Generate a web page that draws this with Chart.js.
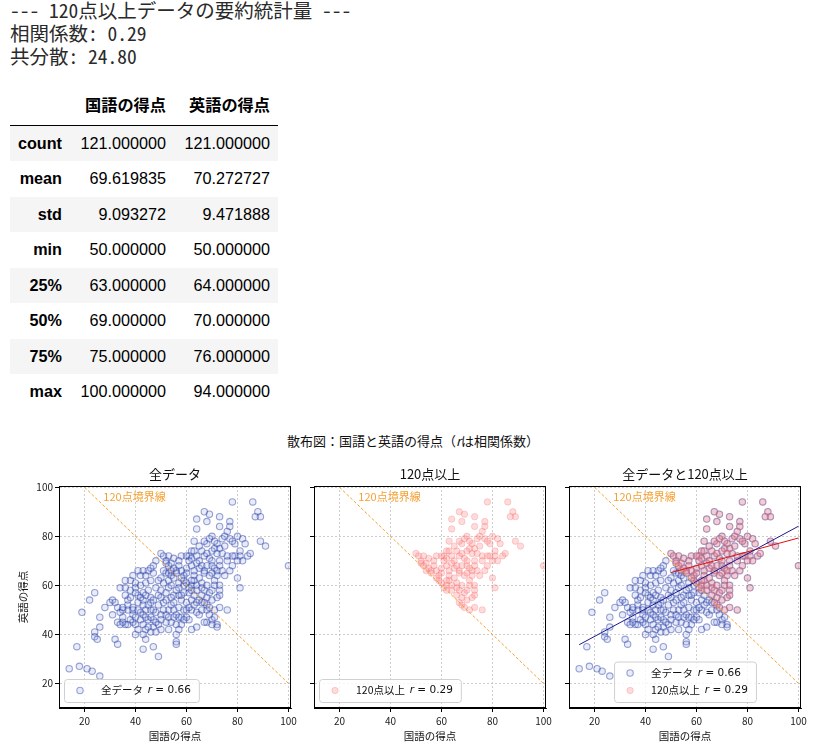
<!DOCTYPE html>
<html>
<head>
<meta charset="utf-8">
<script src="https://cdn.jsdelivr.net/npm/chart.js@4/dist/chart.umd.min.js"></script>
<style>
html, body { margin: 0; padding: 0; background: #fff; width: 826px; height: 746px; overflow: hidden; position: relative; }
#out { position: absolute; left: 10px; top: -2px; margin: 0; font: 19.5px/23px "Noto Sans Mono CJK JP", "DejaVu Sans Mono", monospace; color: #2a2a2a; white-space: pre; }
table { position: absolute; left: 10px; top: 82px; border-collapse: collapse; font: 16.2px "Liberation Sans", Arial, sans-serif; color: #000; }
th, td { padding: 0 8px 0 0; text-align: right; }
thead th { height: 43px; border-bottom: 1px solid #000; font-family: "Noto Sans CJK JP", sans-serif; font-weight: bold; }
tbody tr { height: 35.5px; }
tbody tr:nth-child(odd) { background: #f5f5f5; }
tbody th { font-weight: bold; }
#suptitle { position: absolute; left: 0; width: 826px; top: 432px; line-height: 18px; text-align: center; font-size: 13px; font-family: "Noto Sans CJK JP", sans-serif; color: #111; }
canvas { position: absolute; top: 460px; }
</style>
</head>
<body>
<pre id="out">--- 120点以上データの要約統計量 ---
相関係数: 0.29
共分散: 24.80</pre>
<table>
  <colgroup><col style="width:60px"><col style="width:104px"><col style="width:104px"></colgroup>
  <thead><tr><th></th><th>国語の得点</th><th>英語の得点</th></tr></thead>
  <tbody id="stats"></tbody>
</table>
<div id="suptitle">散布図：国語と英語の得点（<i>r</i>は相関係数）</div>
<canvas id="c1" width="300" height="286" style="left:0px"></canvas>
<canvas id="c2" width="300" height="286" style="left:255px"></canvas>
<canvas id="c3" width="300" height="286" style="left:510px"></canvas>
<script>
// summary table (120点以上)
const statNames = ['count', 'mean', 'std', 'min', '25%', '50%', '75%', 'max']
const statKokugo = ['121.000000', '69.619835', '9.093272', '50.000000', '63.000000', '69.000000', '75.000000', '100.000000']
const statEigo = ['121.000000', '70.272727', '9.471888', '50.000000', '64.000000', '70.000000', '76.000000', '94.000000']

// [国語, 英語] pairs
const scoresBelow120 = [
  [14,26],[18,27],[17,35],[21,26],[23,25],[26,23],[19,49],[22,54],[24,57],[24,41],[24,39],[25,38],[26,47],[26,43],
  [28,51],[30,53],[31,54],[32,38],[33,36],[33,45],[33,51],[34,49],[34,59],[35,47],[35,45],[36,44],[37,50],[37,52],
  [37,54],[38,62],[38,58],[38,55],[39,51],[39,48],[39,45],[39,50],[40,61],[40,59],[40,40],[41,53],[41,56],[42,46],
  [42,49],[42,64],[43,57],[43,52],[43,44],[43,54],[44,61],[44,50],[44,42],[44,38],[45,46],[45,66],[45,58],[46,41],
  [46,50],[46,55],[46,53],[46,62],[47,46],[47,65],[47,43],[47,54],[48,49],[48,59],[48,41],[48,70],[49,52],[49,56],
  [49,31],[49,44],[50,63],[50,48],[50,58],[50,42],[51,53],[51,61],[52,65],[52,48],[52,57],[52,54],[53,42],[53,50],
  [53,62],[53,59],[54,45],[54,52],[54,64],[55,47],[55,56],[55,53],[55,63],[56,37],[56,40],[56,48],[57,59],[57,51],
  [57,61],[57,56],[58,47],[58,44],[58,54],[59,57],[59,50],[59,60],[60,47],[60,53],[61,57],[61,46],[62,42],[62,50],
  [62,54],[63,56],[64,49],[64,53],[65,48],[65,54],[66,50],[66,53],[68,45],[70,46],[71,47],[72,44],[47,68],[46,67],
  [43,66],[41,66],[36,62],[36,59],[40,57],[41,50],[42,55],[44,56],[45,52],[47,50],[48,45],[50,55],[51,50],[52,45],
  [54,60],[55,50],[56,44],[57,47],[58,56],[60,50],[45,43],[43,48],[37,44],[38,46],[35,50],[36,56],[32,53],[31,48],
  [40,47],[44,47],[46,47],[50,46],[53,47],[54,55],[56,58],[49,62],[51,66],[53,65],[44,64],[42,60],[39,64],[35,51],
  [34,44],[40,44],[41,42],[43,40],[47,35],[43,34],[56,36],[57,42],[59,46],[61,51],[63,52],[64,43],[67,45],[68,50],
  [69,48],[70,44],[72,43]
]
const scoresAbove120 = [
  [78,94],[86,94],[67,90],[69,89],[73,88],[88,90],[87,88],[89,88],[64,87],[68,86],[77,86],[73,84],[77,84],[64,83],
  [76,82],[70,80],[74,79],[77,79],[63,78],[82,79],[83,77],[89,78],[91,76],[68,77],[72,77],[75,76],[79,77],[73,75],
  [71,75],[66,74],[62,74],[61,72],[63,74],[81,74],[81,72],[79,72],[78,72],[76,70],[50,73],[53,72],[55,71],[52,70],
  [58,72],[60,72],[62,71],[64,72],[65,70],[69,71],[70,70],[73,70],[82,70],[53,68],[54,66],[57,68],[60,67],[64,69],
  [67,66],[70,68],[71,67],[73,68],[77,66],[100,68],[59,64],[60,65],[63,64],[67,65],[69,64],[72,64],[71,62],[80,63],
  [81,59],[59,62],[60,61],[63,62],[66,59],[67,58],[69,57],[73,60],[73,58],[73,56],[66,56],[68,52],[73,51],[76,50],
  [62,60],[64,60],[56,66],[58,66],[61,70],[62,68],[65,67],[66,68],[68,68],[70,65],[72,66],[74,66],[75,64],[76,72],
  [78,68],[80,70],[84,72],[85,73],[70,74],[72,73],[74,73],[67,72],[68,73],[65,76],[67,78],[69,79],[71,78],[80,80],
  [78,78],[75,80],[66,61],[68,60],[70,58],[71,60],[64,58],[62,58],[61,59],[68,55],[70,54],[67,53],[72,55],[63,66],
  [65,63],[58,63],[56,65],[57,70],[55,67],[54,69],[51,72],[52,69],[69,51],[71,50],[62,62]
]

const axisTicks = [20, 40, 60, 80, 100]
const boundaryX = [20, 100]
const boundaryY = [100, 20]
const fitAllX = [14, 100]
const fitAllY = [35.8, 84.1]
const fitHighX = [50, 100]
const fitHighY = [65.2, 79.3]
const rAll = 0.66
const rHigh = 0.29
const boundaryLabel = '120点境界線'
const boundaryLabelPos = [27.4, 96.2]

document.querySelector('#stats').innerHTML = statNames.map((n, i) =>
  `<tr><th>${n}</th><td>${statKokugo[i]}</td><td>${statEigo[i]}</td></tr>`).join('')

const JP = '"Noto Sans CJK JP", sans-serif'
const blueStyle = { backgroundColor: 'rgba(140,160,230,0.2)', borderColor: 'rgba(35,55,160,0.45)', borderWidth: 1.1, pointRadius: 3.2 }
const pinkStyle = { backgroundColor: 'rgba(255,125,125,0.28)', borderColor: 'rgba(240,100,100,0.25)', borderWidth: 1, pointRadius: 3.2 }

const toPts = pairs => pairs.map(([x, y]) => ({ x, y }))
const toLine = (xs, ys) => xs.map((x, i) => ({ x, y: ys[i] }))
const allPts = toPts(scoresBelow120.concat(scoresAbove120))
const highPts = toPts(scoresAbove120)

const deco = {
  id: 'deco',
  afterDraw(chart, args, o) {
    const { ctx, chartArea: a, scales } = chart
    ctx.save()
    ctx.strokeStyle = '#000'
    ctx.lineWidth = 1
    ctx.strokeRect(Math.round(a.left) + 0.5, Math.round(a.top) + 0.5, Math.round(a.width) - 1, Math.round(a.height) - 1)

    ctx.fillStyle = '#111'
    ctx.font = '13px ' + JP
    ctx.textAlign = 'center'
    ctx.textBaseline = 'middle'
    ctx.fillText(o.title, (a.left + a.right) / 2, a.top - 12)

    ctx.fillStyle = '#f5a033'
    ctx.font = '11px ' + JP
    ctx.textAlign = 'left'
    ctx.fillText(boundaryLabel, scales.x.getPixelForValue(boundaryLabelPos[0]), scales.y.getPixelForValue(boundaryLabelPos[1]))

    // legend box
    const labelFont = '10.5px ' + JP
    const mathFont = '10.5px "DejaVu Sans", sans-serif'
    const itFont = 'italic 10.5px "DejaVu Sans", sans-serif'
    const rows = o.legend.map(item => {
      ctx.font = labelFont
      const w1 = ctx.measureText(item.label + '  ').width
      ctx.font = itFont
      const w2 = ctx.measureText('r').width
      ctx.font = mathFont
      const tail = ' = ' + item.r.toFixed(2)
      const w3 = ctx.measureText(tail).width
      return { ...item, w1, w2, w3, tail, w: w1 + w2 + w3 }
    })
    const rowH = 17.5
    const boxW = 37 + Math.max(...rows.map(r => r.w)) + 8
    const boxH = rows.length * rowH + 5.5
    const boxX = o.legendAlign === 'center' ? (a.left + a.right) / 2 - boxW / 2 : a.left + 5
    const boxY = a.bottom - 6 - boxH
    ctx.beginPath()
    ctx.roundRect(boxX + 0.5, boxY + 0.5, boxW, boxH, 3)
    ctx.fillStyle = 'rgba(255,255,255,0.8)'
    ctx.fill()
    ctx.strokeStyle = '#d0d0d0'
    ctx.stroke()
    rows.forEach((r, i) => {
      const cy = boxY + 2.75 + rowH * (i + 0.5)
      ctx.beginPath()
      ctx.arc(boxX + 16, cy, r.style.pointRadius, 0, Math.PI * 2)
      ctx.fillStyle = r.style.backgroundColor
      ctx.fill()
      ctx.lineWidth = r.style.borderWidth
      ctx.strokeStyle = r.style.borderColor
      ctx.stroke()
      ctx.fillStyle = '#111'
      ctx.textAlign = 'left'
      let tx = boxX + 37
      ctx.font = labelFont
      ctx.fillText(r.label, tx, cy)
      tx += r.w1
      ctx.font = itFont
      ctx.fillText('r', tx, cy)
      tx += r.w2
      ctx.font = mathFont
      ctx.fillText(r.tail, tx, cy)
    })
    ctx.restore()
  }
}

function axis(pos, showLabels, title) {
  return {
    type: 'linear',
    position: pos,
    min: 10,
    max: pos === 'bottom' ? 101 : 100.5,
    afterBuildTicks: s => { s.ticks = axisTicks.map(v => ({ value: v })) },
    afterFit: s => { if (pos === 'bottom') s.height = 38; else s.width = 59 },
    ticks: { display: showLabels, padding: pos === 'bottom' ? 3 : 2, color: '#222', font: { family: JP, size: 10 }, callback: v => String(v) },
    grid: { color: '#c0c0c0', lineWidth: 0.8, tickColor: '#000', tickLength: 4, tickWidth: 1 },
    border: { display: true, color: '#000', width: 1, dash: [2, 2] },
    title: {
      display: !!title, text: title || '', color: '#111', font: { family: JP, size: 10.5 },
      padding: pos === 'bottom' ? { top: 0, bottom: 4 } : { top: 16.5, bottom: 0 }
    }
  }
}

const boundarySet = { data: toLine(boundaryX, boundaryY), showLine: true, pointRadius: 0, borderColor: '#f5a033', borderWidth: 1, borderDash: [3, 2], order: 0 }

function makePanel(id, datasets, opts) {
  new Chart(document.getElementById(id), {
    type: 'scatter',
    data: { datasets },
    options: {
      responsive: false,
      animation: false,
      events: [],
      layout: { padding: { left: 0, right: 9, top: 26, bottom: 0 } },
      plugins: { legend: { display: false }, tooltip: { enabled: false }, deco: opts },
      scales: { x: axis('bottom', true, '国語の得点'), y: axis('left', opts.yLabels, opts.yLabels ? '英語の得点' : '') }
    },
    plugins: [deco]
  })
}

makePanel('c1', [
  { ...boundarySet },
  { data: allPts, ...blueStyle, order: 2 }
], { title: '全データ', yLabels: true, legendAlign: 'left', legend: [{ label: '全データ', r: rAll, style: blueStyle }] })

makePanel('c2', [
  { ...boundarySet },
  { data: highPts, ...pinkStyle, order: 2 }
], { title: '120点以上', yLabels: false, legendAlign: 'left', legend: [{ label: '120点以上', r: rHigh, style: pinkStyle }] })

makePanel('c3', [
  { ...boundarySet },
  { data: toLine(fitAllX, fitAllY), showLine: true, pointRadius: 0, borderColor: '#1a1a8c', borderWidth: 1, order: 0 },
  { data: toLine(fitHighX, fitHighY), showLine: true, pointRadius: 0, borderColor: '#e01010', borderWidth: 1, order: 0 },
  { data: highPts, ...pinkStyle, order: 1 },
  { data: allPts, ...blueStyle, order: 2 }
], { title: '全データと120点以上', yLabels: false, legendAlign: 'center', legend: [
  { label: '全データ', r: rAll, style: blueStyle },
  { label: '120点以上', r: rHigh, style: pinkStyle }
] })
</script>
</body>
</html>
